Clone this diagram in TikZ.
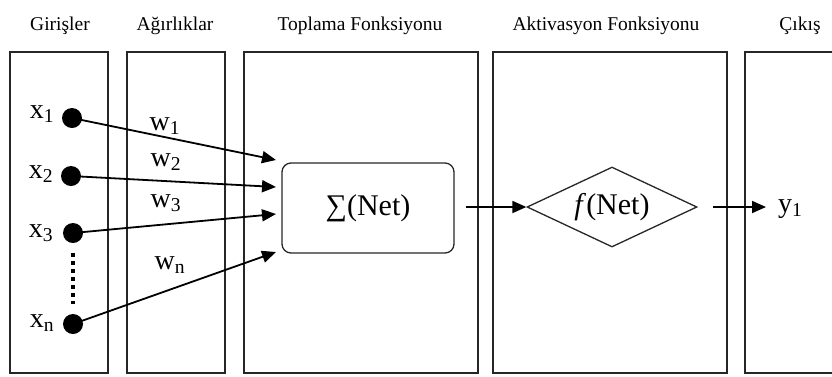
\documentclass[tikz,border=0pt]{standalone}
\usepackage{fontspec}
\setmainfont{Liberation Serif}
\usetikzlibrary{arrows.meta,shapes.geometric}
\tikzset{
  panel/.style={draw=black!85, line width=1.7pt},
  title/.style={font=\fontsize{19.5}{22}\selectfont, anchor=base},
  big/.style={font=\fontsize{30}{33}\selectfont},
  lab/.style={font=\fontsize{28}{31}\selectfont},
  dot/.style={circle, fill=black, inner sep=0pt, minimum size=20pt},
  conn/.style={line width=1.8pt, -{Triangle[length=14pt,width=12pt]}},
}
\begin{document}
\begin{tikzpicture}[x=1pt,y=-1pt]
\useasboundingbox (0,0) rectangle (832,376);
\clip (0,0) rectangle (832,376);

% column frames
\draw[panel] (10,52) rectangle (108,373);
\draw[panel] (127,52) rectangle (225,373);
\draw[panel] (244,52) rectangle (478,373);
\draw[panel] (493,52) rectangle (727,373);
\draw[panel] (745,52) rectangle (860,373);

% column titles
\node[title] (t1) at (60,30) {Girişler};
\node[title] (t2) at (175,30) {Ağırlıklar};
\node[title] (t3) at (360,30) {Toplama Fonksiyonu};
\node[title] (t4) at (606,30) {Aktivasyon Fonksiyonu};
\node[title] (t5) at (800,30) {Çıkış};

% inputs
\node[dot] (x1) at (72,118) {};
\node[dot] (x2) at (71,176) {};
\node[dot] (x3) at (73,233) {};
\node[dot] (xn) at (73,324) {};
\node[lab] at (42,114) {x\textsubscript{1}};
\node[lab] at (41,174) {x\textsubscript{2}};
\node[lab] at (41,233) {x\textsubscript{3}};
\node[lab] at (42,323) {x\textsubscript{n}};
\draw[line width=4pt, dash pattern=on 3.5pt off 4.5pt]
  ([yshift=-10pt]x3.south) -- ([yshift=10pt]xn.north);

% summation block
\node[draw=black!85, line width=1.3pt, rounded corners=9pt, minimum width=172pt,
      minimum height=90pt, big] (sum) at (368,208) {∑(Net)};
\coordinate (s1) at (276,160);
\coordinate (s2) at (276,187);
\coordinate (s3) at (276,214);
\coordinate (s4) at (276,252);

% weighted connections
\draw[conn] (x1.center) -- (s1);
\draw[conn] (x2.center) -- (s2);
\draw[conn] (x3.center) -- (s3);
\draw[conn] (xn.center) -- (s4);
\node[lab] at (165,126) {w\textsubscript{1}};
\node[lab] at (166,162) {w\textsubscript{2}};
\node[lab] at (166,203) {w\textsubscript{3}};
\node[lab] at (170,265) {w\textsubscript{n}};

% activation block
\node[draw=black!85, line width=1.3pt, diamond, aspect=2.1, inner sep=1pt,
      minimum width=170pt, minimum height=80pt, big] (act) at (612,207)
      {\textit{f}(Net)};
\coordinate (a0) at (466,207);
\draw[conn] (a0) -- (act.west);

% output
\node[lab, anchor=west, inner sep=0pt] (y1) at (778,209) {y\textsubscript{1}};
\coordinate (a1) at (713,207);
\coordinate (a2) at (766,207);
\draw[conn] (a1) -- (a2);
\end{tikzpicture}
\end{document}
